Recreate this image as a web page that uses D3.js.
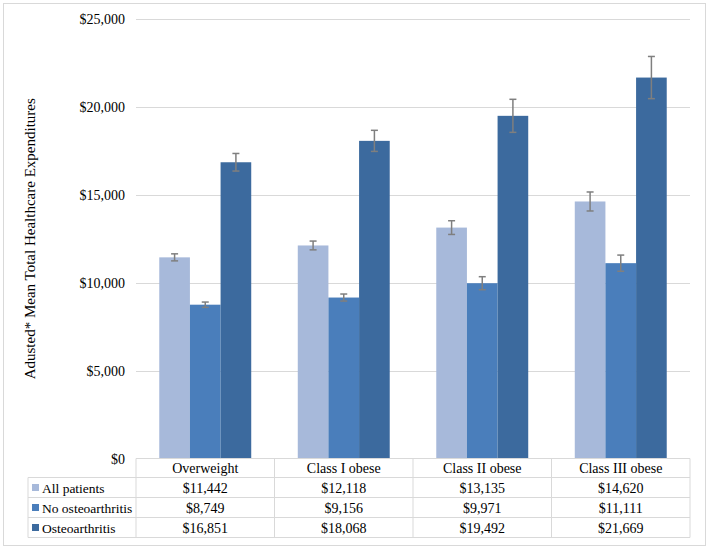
<!DOCTYPE html>
<html>
<head>
<meta charset="utf-8">
<script src="https://cdn.jsdelivr.net/npm/d3@7"></script>
<style>
  html, body { margin: 0; padding: 0; background: #fff; }
  svg { display: block; }
</style>
</head>
<body>
<svg id="chart" width="709" height="548"></svg>
<script>
// ---- data ----
const categories = ["Overweight", "Class I obese", "Class II obese", "Class III obese"];
const seriesNames = ["All patients", "No osteoarthritis", "Osteoarthritis"];
const allPatients = [11442, 12118, 13135, 14620];
const noOsteo = [8749, 9156, 9971, 11111];
const osteo = [16851, 18068, 19492, 21669];
// estimated error-bar half widths
const errAll = [200, 250, 390, 540];
const errNoOsteo = [150, 200, 370, 460];
const errOsteo = [500, 600, 940, 1200];
const yTicks = [0, 5000, 10000, 15000, 20000, 25000];
const colors = ["#A7B9DA", "#4A7EBB", "#3C6A9E"];
const yTitle = "Adusted* Mean Total Healthcare Expenditures";

const seriesValues = [allPatients, noOsteo, osteo];
const seriesErr = [errAll, errNoOsteo, errOsteo];

// ---- layout ----
const FONT = "'Liberation Serif', 'Times New Roman', Tinos, 'DejaVu Serif', serif";
const svg = d3.select("#chart").attr("font-family", FONT).style("font-family", FONT);
const plotLeft = 136, plotRight = 690, plotTop = 19, plotBottom = 458.5;
const tableLeft = 28;
const headerH = 19, rowH = 20;

// frame
svg.append("rect").attr("x", 3.5).attr("y", 3.5).attr("width", 702).attr("height", 542)
  .attr("fill", "none").attr("stroke", "#D9D9D9").attr("stroke-width", 1);

const y = d3.scaleLinear().domain([0, 25000]).range([plotBottom, plotTop]);
const x0 = d3.scaleBand().domain(categories).range([plotLeft, plotRight])
  .paddingInner(0.336).paddingOuter(0.168);
const x1 = d3.scaleBand().domain(seriesNames).range([0, x0.bandwidth()]).padding(0);

// gridlines
svg.append("g").selectAll("line").data(yTicks.filter(d => d > 0)).join("line")
  .attr("x1", plotLeft).attr("x2", plotRight)
  .attr("y1", d => Math.round(y(d)) + 0.5).attr("y2", d => Math.round(y(d)) + 0.5)
  .attr("stroke", "#D9D9D9").attr("stroke-width", 1);

// y axis labels
const fmt = d => "$" + d3.format(",")(d);
svg.append("g").selectAll("text").data(yTicks).join("text")
  .attr("x", 125).attr("y", d => y(d) + 5)
  .attr("text-anchor", "end").attr("font-size", 14).text(fmt);

// y title
svg.append("text")
  .attr("transform", `translate(35,${(plotTop + plotBottom) / 2}) rotate(-90)`)
  .attr("text-anchor", "middle").attr("font-size", 15).text(yTitle);

// bars
const groups = svg.append("g").selectAll("g").data(categories).join("g")
  .attr("transform", d => `translate(${x0(d)},0)`);

groups.each(function(cat, ci) {
  const g = d3.select(this);
  seriesNames.forEach((s, si) => {
    const v = seriesValues[si][ci];
    g.append("rect")
      .attr("x", x1(s)).attr("width", x1.bandwidth())
      .attr("y", y(v)).attr("height", y(0) - y(v))
      .attr("fill", colors[si]);
  });
});

// error bars
groups.each(function(cat, ci) {
  const g = d3.select(this);
  seriesNames.forEach((s, si) => {
    const v = seriesValues[si][ci], e = seriesErr[si][ci];
    const cx = x1(s) + x1.bandwidth() / 2;
    const eg = g.append("g").attr("stroke", "#7F7F7F").attr("stroke-width", 1.5);
    eg.append("line").attr("x1", cx).attr("x2", cx).attr("y1", y(v + e)).attr("y2", y(v - e));
    eg.append("line").attr("x1", cx - 3.5).attr("x2", cx + 3.5).attr("y1", y(v + e)).attr("y2", y(v + e));
    eg.append("line").attr("x1", cx - 3.5).attr("x2", cx + 3.5).attr("y1", y(v - e)).attr("y2", y(v - e));
  });
});

// data table
const tTop = plotBottom;
const tg = svg.append("g");
const lineCol = "#D9D9D9";
const step = x0.step();
const colEdges = categories.map((c, i) => plotLeft + i * step).concat([plotRight]);
tg.append("line").attr("x1", plotLeft).attr("x2", plotRight).attr("y1", tTop).attr("y2", tTop)
  .attr("stroke", lineCol);
for (let r = 0; r <= seriesNames.length; r++) {
  const yy = tTop + headerH + r * rowH;
  tg.append("line").attr("x1", tableLeft).attr("x2", plotRight).attr("y1", yy).attr("y2", yy)
    .attr("stroke", lineCol);
}
colEdges.forEach(xx => {
  tg.append("line").attr("x1", xx).attr("x2", xx).attr("y1", tTop)
    .attr("y2", tTop + headerH + seriesNames.length * rowH).attr("stroke", lineCol);
});
tg.append("line").attr("x1", tableLeft).attr("x2", tableLeft).attr("y1", tTop + headerH)
  .attr("y2", tTop + headerH + seriesNames.length * rowH).attr("stroke", lineCol);

tg.selectAll("text.hdr").data(categories).join("text").attr("class", "hdr")
  .attr("x", d => x0(d) + x0.bandwidth() / 2).attr("y", tTop + headerH / 2 + 5)
  .attr("text-anchor", "middle").attr("font-size", 14).text(d => d);

seriesNames.forEach((s, si) => {
  const cy = tTop + headerH + si * rowH + rowH / 2;
  tg.append("rect").attr("x", 32).attr("y", cy - 3.5).attr("width", 7).attr("height", 7)
    .attr("fill", colors[si]);
  tg.append("text").attr("x", 42).attr("y", cy + 5).attr("font-size", 13.5).text(s);
  categories.forEach((c, ci) => {
    tg.append("text").attr("x", x0(c) + x0.bandwidth() / 2).attr("y", cy + 5)
      .attr("text-anchor", "middle").attr("font-size", 14).text(fmt(seriesValues[si][ci]));
  });
});
</script>
</body>
</html>
